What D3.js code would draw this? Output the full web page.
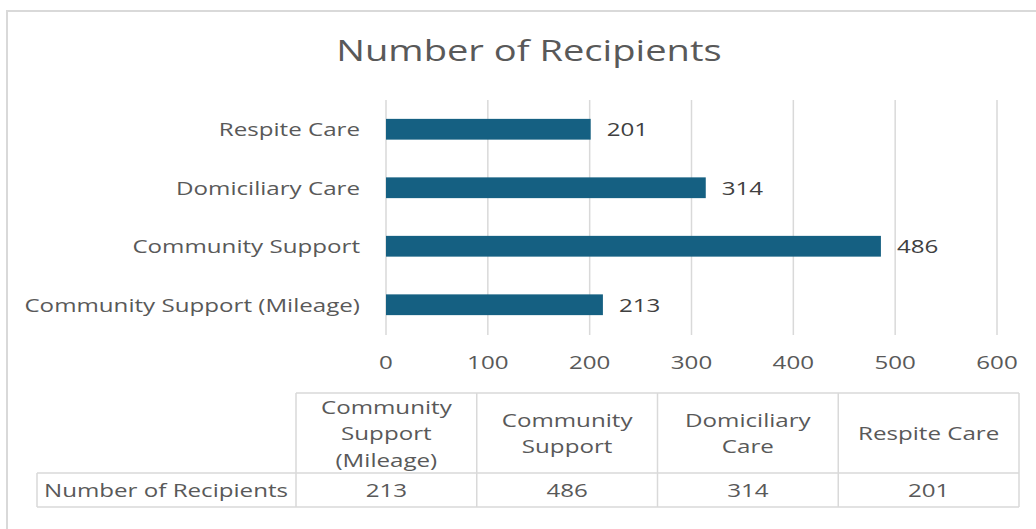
<!DOCTYPE html>
<html>
<head>
<meta charset="utf-8">
<script src="https://cdn.jsdelivr.net/npm/d3@7"></script>
<style>
  body { margin: 0; background: #fff; }
  text { font-family: "Open Sans", sans-serif; }
</style>
</head>
<body>
<div id="chart"></div>
<script>
// data
const categories = ["Community Support (Mileage)", "Community Support", "Domiciliary Care", "Respite Care"];
const recipients = [213, 486, 314, 201];
const xTicks = [0, 100, 200, 300, 400, 500, 600];
const chartTitle = "Number of Recipients";
const seriesName = "Number of Recipients";

const W = 1036, H = 529;
const STRETCH = 1.27; // the reference text is wider than our fonts
const grey = "#595959", gridGrey = "#d9d9d9", barBlue = "#156082";

const svg = d3.select("#chart")
  .append("svg")
  .attr("width", W)
  .attr("height", H);

// widen a text element horizontally by STRETCH
function widen(sel) {
  sel.each(function () {
    const w = this.getComputedTextLength();
    d3.select(this).attr("textLength", w * STRETCH).attr("lengthAdjust", "spacingAndGlyphs");
  });
  return sel;
}

// chart frame (right and bottom edges are off the picture)
svg.append("rect")
  .attr("x", 7).attr("y", 11)
  .attr("width", W + 20).attr("height", H + 20)
  .attr("fill", "none")
  .attr("stroke", gridGrey)
  .attr("stroke-width", 2);

// title
svg.append("text")
  .attr("x", 529).attr("y", 61)
  .attr("text-anchor", "middle")
  .style("font-size", "30px")
  .style("fill", grey)
  .text(chartTitle)
  .call(widen);

// scales
const x = d3.scaleLinear()
  .domain([0, 600])
  .range([386, 997]);

// first category at the bottom, like Excel
const y = d3.scaleBand()
  .domain(categories.slice().reverse())
  .range([100, 334])
  .paddingInner(0.645)
  .paddingOuter(0.3225);

// gridlines
svg.append("g")
  .selectAll("line")
  .data(xTicks)
  .join("line")
  .attr("x1", d => x(d)).attr("x2", d => x(d))
  .attr("y1", 100).attr("y2", 335)
  .attr("stroke", gridGrey)
  .attr("stroke-width", 1.5);

// x tick labels
svg.append("g")
  .selectAll("text")
  .data(xTicks)
  .join("text")
  .attr("x", d => x(d))
  .attr("y", 362)
  .attr("text-anchor", "middle")
  .attr("dominant-baseline", "central")
  .style("font-size", "19px")
  .style("fill", grey)
  .text(d => d)
  .call(widen);

// category labels
svg.append("g")
  .selectAll("text")
  .data(categories)
  .join("text")
  .attr("x", 360)
  .attr("y", d => y(d) + y.bandwidth() / 2)
  .attr("text-anchor", "end")
  .attr("dominant-baseline", "central")
  .style("font-size", "19px")
  .style("fill", grey)
  .text(d => d)
  .call(widen);

// bars
svg.append("g")
  .selectAll("rect")
  .data(categories)
  .join("rect")
  .attr("x", x(0))
  .attr("y", d => y(d))
  .attr("width", (d, i) => x(recipients[i]) - x(0))
  .attr("height", y.bandwidth())
  .attr("fill", barBlue);

// value labels
svg.append("g")
  .selectAll("text")
  .data(categories)
  .join("text")
  .attr("x", (d, i) => x(recipients[i]) + 16)
  .attr("y", d => y(d) + y.bandwidth() / 2)
  .attr("dominant-baseline", "central")
  .style("font-size", "19px")
  .style("fill", "#404040")
  .text((d, i) => recipients[i])
  .call(widen);

// data table under the axis
const col = d3.scaleBand()
  .domain(categories)
  .range([296, 1019]);
const tTop = 393, tMid = 473, tBot = 507, labelLeft = 37;
const tRight = col.range()[1];

const table = svg.append("g")
  .attr("stroke", gridGrey)
  .attr("stroke-width", 1.5);

// horizontal rules
table.append("line").attr("x1", col.range()[0]).attr("x2", tRight).attr("y1", tTop).attr("y2", tTop);
table.append("line").attr("x1", labelLeft).attr("x2", tRight).attr("y1", tMid).attr("y2", tMid);
table.append("line").attr("x1", labelLeft).attr("x2", tRight).attr("y1", tBot).attr("y2", tBot);
table.append("line").attr("x1", labelLeft).attr("x2", labelLeft).attr("y1", tMid).attr("y2", tBot);
// vertical rules
table.selectAll(".vr")
  .data(categories.map(d => col(d)).concat([tRight]))
  .join("line")
  .attr("class", "vr")
  .attr("x1", d => d).attr("x2", d => d)
  .attr("y1", tTop).attr("y2", tBot);

// header cells, wrapped to the column width
const lineH = 26.5;
const probe = svg.append("text").style("font-size", "19px");
function wrap(label, maxW) {
  const lines = [];
  let cur = [];
  label.split(" ").forEach(w => {
    probe.text(cur.concat([w]).join(" "));
    if (cur.length && probe.node().getComputedTextLength() * STRETCH > maxW) {
      lines.push(cur.join(" "));
      cur = [w];
    } else {
      cur.push(w);
    }
  });
  lines.push(cur.join(" "));
  return lines;
}

const heads = svg.append("g");
categories.forEach(d => {
  const lines = wrap(d, col.bandwidth() - 20);
  const cy = (tTop + tMid) / 2 - (lines.length - 1) * lineH / 2;
  heads.selectAll(null)
    .data(lines)
    .join("text")
    .attr("x", col(d) + col.bandwidth() / 2)
    .attr("y", (l, i) => cy + i * lineH)
    .attr("text-anchor", "middle")
    .attr("dominant-baseline", "central")
    .style("font-size", "19px")
    .style("fill", grey)
    .text(l => l)
    .call(widen);
});
probe.remove();

// data row
svg.append("text")
  .attr("x", 44)
  .attr("y", (tMid + tBot) / 2)
  .attr("dominant-baseline", "central")
  .style("font-size", "19px")
  .style("fill", grey)
  .text(seriesName)
  .call(widen);

svg.append("g")
  .selectAll("text")
  .data(categories)
  .join("text")
  .attr("x", d => col(d) + col.bandwidth() / 2)
  .attr("y", (tMid + tBot) / 2)
  .attr("text-anchor", "middle")
  .attr("dominant-baseline", "central")
  .style("font-size", "19px")
  .style("fill", grey)
  .text((d, i) => recipients[i])
  .call(widen);
</script>
</body>
</html>
